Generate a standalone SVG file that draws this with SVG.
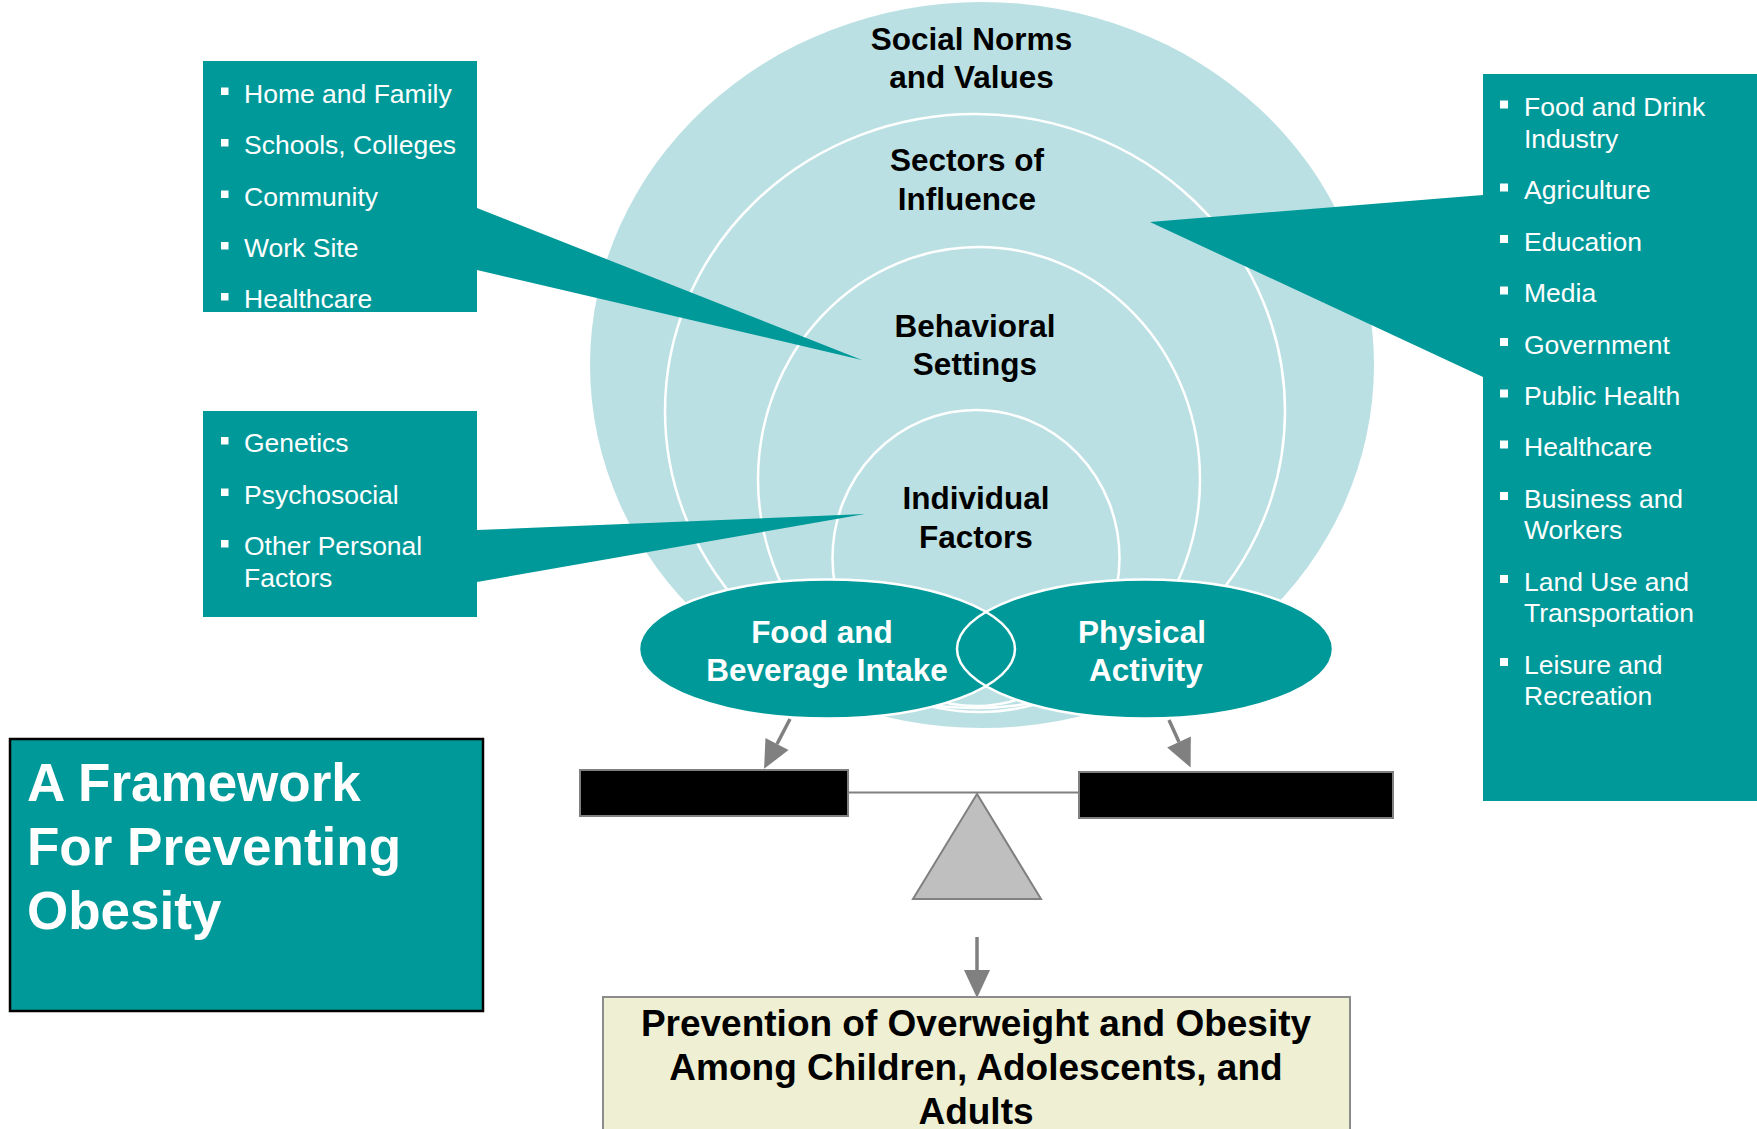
<svg xmlns="http://www.w3.org/2000/svg" width="1757" height="1129" viewBox="0 0 1757 1129">
  <style>
    text { font-family: "Liberation Sans", Arial, sans-serif; }
    .teal { fill: #009999; }
    .ring { fill: none; stroke: #ffffff; stroke-width: 2.5; }
    .lbl { font-size: 31.5px; font-weight: bold; fill: #000000; text-anchor: middle; }
    .wlbl { font-size: 31.5px; font-weight: bold; fill: #ffffff; text-anchor: middle; }
    .item { font-size: 26.5px; fill: #ffffff; }
    .bullet { fill: #ffffff; }
    .arrow { stroke: #808080; stroke-width: 3.5; fill: none; marker-end: url(#head); }
    .pan { fill: #000000; stroke: #808080; stroke-width: 2; }
  </style>
  <defs>
    <marker id="head" markerUnits="userSpaceOnUse" markerWidth="28" markerHeight="26" refX="0" refY="13" orient="auto" overflow="visible">
      <path d="M0,0 L28,13 L0,26 Z" fill="#808080"/>
    </marker>
  </defs>

  <rect width="1757" height="1129" fill="#ffffff"/>

  <!-- nested spheres of influence -->
  <g id="spheres">
    <ellipse cx="982" cy="365" rx="392" ry="363" fill="#BBE0E3"/>
    <ellipse class="ring" cx="975" cy="411" rx="310" ry="297"/>
    <ellipse class="ring" cx="979" cy="479.5" rx="221" ry="232.5"/>
    <ellipse class="ring" cx="976" cy="558" rx="143.5" ry="148"/>
  </g>

  <!-- settings callout -->
  <g id="settings-list">
    <path class="teal" d="M203,61 H477 V208 L862,360 L477,270 V312 H203 Z"/>
    <rect class="bullet" x="221" y="87.5" width="7.5" height="7.5"/>
    <rect class="bullet" x="221" y="139" width="7.5" height="7.5"/>
    <rect class="bullet" x="221" y="190.5" width="7.5" height="7.5"/>
    <rect class="bullet" x="221" y="242" width="7.5" height="7.5"/>
    <rect class="bullet" x="221" y="293" width="7.5" height="7.5"/>
    <text class="item" x="244" y="102.5">Home and Family</text>
    <text class="item" x="244" y="154">Schools, Colleges</text>
    <text class="item" x="244" y="205.5">Community</text>
    <text class="item" x="244" y="257">Work Site</text>
    <text class="item" x="244" y="308">Healthcare</text>
  </g>

  <!-- individual factors callout -->
  <g id="individual-list">
    <path class="teal" d="M203,411 H477 V530 L865,514 L477,582 V617 H203 Z"/>
    <rect class="bullet" x="221" y="437" width="7.5" height="7.5"/>
    <rect class="bullet" x="221" y="488.5" width="7.5" height="7.5"/>
    <rect class="bullet" x="221" y="540" width="7.5" height="7.5"/>
    <text class="item" x="244" y="452">Genetics</text>
    <text class="item" x="244" y="503.5">Psychosocial</text>
    <text class="item" x="244" y="555">Other Personal</text>
    <text class="item" x="244" y="586.5">Factors</text>
  </g>

  <!-- sectors callout -->
  <g id="sectors-list">
    <path class="teal" d="M1483,74 H1757 V801 H1483 V377 L1150,222 L1483,195 Z"/>
    <rect class="bullet" x="1500" y="100.5" width="8" height="8"/>
    <rect class="bullet" x="1500" y="183.5" width="8" height="8"/>
    <rect class="bullet" x="1500" y="235" width="8" height="8"/>
    <rect class="bullet" x="1500" y="286.5" width="8" height="8"/>
    <rect class="bullet" x="1500" y="338" width="8" height="8"/>
    <rect class="bullet" x="1500" y="389.5" width="8" height="8"/>
    <rect class="bullet" x="1500" y="440.5" width="8" height="8"/>
    <rect class="bullet" x="1500" y="492" width="8" height="8"/>
    <rect class="bullet" x="1500" y="575" width="8" height="8"/>
    <rect class="bullet" x="1500" y="658" width="8" height="8"/>
    <text class="item" x="1524" y="116">Food and Drink</text>
    <text class="item" x="1524" y="147.5">Industry</text>
    <text class="item" x="1524" y="199">Agriculture</text>
    <text class="item" x="1524" y="250.5">Education</text>
    <text class="item" x="1524" y="302">Media</text>
    <text class="item" x="1524" y="353.5">Government</text>
    <text class="item" x="1524" y="405">Public Health</text>
    <text class="item" x="1524" y="456">Healthcare</text>
    <text class="item" x="1524" y="507.5">Business and</text>
    <text class="item" x="1524" y="539">Workers</text>
    <text class="item" x="1524" y="590.5">Land Use and</text>
    <text class="item" x="1524" y="622">Transportation</text>
    <text class="item" x="1524" y="673.5">Leisure and</text>
    <text class="item" x="1524" y="705">Recreation</text>
  </g>

  <!-- sphere labels -->
  <g id="sphere-labels">
    <text class="lbl" x="971.5" y="49.5">Social Norms</text>
    <text class="lbl" x="971.5" y="88">and Values</text>
    <text class="lbl" x="967" y="171">Sectors of</text>
    <text class="lbl" x="967" y="209.5">Influence</text>
    <text class="lbl" x="975" y="336.5">Behavioral</text>
    <text class="lbl" x="975" y="375">Settings</text>
    <text class="lbl" x="976" y="509">Individual</text>
    <text class="lbl" x="976" y="547.5">Factors</text>
  </g>

  <!-- energy balance ovals -->
  <g id="food-intake">
    <ellipse class="teal" cx="827" cy="649" rx="188" ry="69.5"/>
  </g>
  <g id="physical-activity">
    <ellipse class="teal" cx="1145" cy="649" rx="188" ry="69.5"/>
  </g>
  <g id="oval-outlines">
    <ellipse class="ring" cx="827" cy="649" rx="188" ry="69.5"/>
    <ellipse class="ring" cx="1145" cy="649" rx="188" ry="69.5"/>
    <text class="wlbl" x="822" y="643">Food and</text>
    <text class="wlbl" x="827" y="680.5">Beverage Intake</text>
    <text class="wlbl" x="1142" y="643">Physical</text>
    <text class="wlbl" x="1146" y="680.5">Activity</text>
  </g>

  <!-- balance scale -->
  <g id="scale">
    <line x1="848" y1="792.5" x2="1079" y2="792.5" stroke="#808080" stroke-width="2"/>
    <rect class="pan" x="580" y="770" width="268" height="46"/>
    <rect class="pan" x="1079" y="772" width="314" height="46"/>
    <polygon points="977,794 913,899 1041,899" fill="#BFBFBF" stroke="#808080" stroke-width="2"/>
  </g>

  <g id="connectors">
    <line class="arrow" x1="790" y1="719" x2="777" y2="744"/>
    <line class="arrow" x1="1169" y1="720" x2="1179" y2="742"/>
    <line class="arrow" x1="977" y1="937" x2="977" y2="970"/>
  </g>

  <!-- outcome -->
  <g id="outcome">
    <rect x="603" y="997" width="747" height="145" fill="#EFF0D3" stroke="#8C8C8C" stroke-width="2"/>
    <text x="976" y="1036" font-size="37" font-weight="bold" text-anchor="middle">Prevention of Overweight and Obesity</text>
    <text x="976" y="1080" font-size="37" font-weight="bold" text-anchor="middle">Among Children, Adolescents, and</text>
    <text x="976" y="1124" font-size="37" font-weight="bold" text-anchor="middle">Adults</text>
  </g>

  <!-- title -->
  <g id="title">
    <rect x="10" y="739" width="473" height="272" fill="#009999" stroke="#000000" stroke-width="2.5"/>
    <text x="27" y="801" font-size="53" font-weight="bold" fill="#ffffff">A Framework</text>
    <text x="27" y="865" font-size="53" font-weight="bold" fill="#ffffff">For Preventing</text>
    <text x="27" y="929" font-size="53" font-weight="bold" fill="#ffffff">Obesity</text>
  </g>
</svg>
